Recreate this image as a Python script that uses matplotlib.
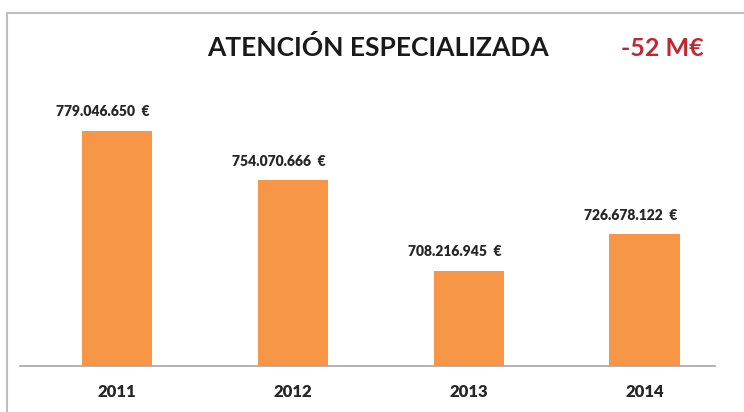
import numpy as np
import matplotlib.pyplot as plt
from matplotlib.lines import Line2D

# Data
years = ['2011', '2012', '2013', '2014']
values = [779046650, 754070666, 708216945, 726678122]
value_labels = ['779.046.650  €', '754.070.666  €', '708.216.945  €', '726.678.122  €']
title = 'ATENCIÓN ESPECIALIZADA'
delta_text = '-52 M€'

W, H = 744, 412
fig = plt.figure(figsize=(W / 100, H / 100), dpi=100)
plt.rcParams['font.family'] = ['Lato', 'DejaVu Sans']

# axes placed so that baseline sits at y=366px, spans x 20..715px
ax = fig.add_axes([20 / W, 1 - 366 / H, (715 - 20) / W, (366 - 80) / H])
x = np.arange(len(years))
ax.bar(x, values, width=0.40, color='#F79646')
ax.set_xlim(-0.551, 3.40)
ax.set_ylim(660e6, 804.7e6)

for xi, v, lab in zip(x, values, value_labels):
    ax.annotate(lab, (xi, v), xytext=(-10, 9), textcoords='offset points',
                ha='center', va='bottom', fontsize=10, fontweight='heavy', color='#262626')

ax.set_xticks(x)
ax.set_xticklabels(years, fontsize=12, fontweight='heavy', color='#262626')
ax.tick_params(axis='x', length=0, pad=13)
ax.set_yticks([])
for s in ['top', 'right', 'left']:
    ax.spines[s].set_visible(False)
ax.spines['bottom'].set_color('#A6A6A6')
ax.spines['bottom'].set_linewidth(1.2)

# frame around the chart (cut off at right/bottom)
fig.add_artist(Line2D([7 / W, 1], [1 - 13 / H, 1 - 13 / H], color='#BFBFBF', lw=1.5))
fig.add_artist(Line2D([7 / W, 7 / W], [0, 1 - 13 / H], color='#BFBFBF', lw=1.5))

fig.text(378 / W, 1 - 48 / H, title, ha='center', va='center', fontsize=19,
         fontweight='bold', color='#1a1a1a')
fig.text(662 / W, 1 - 48 / H, delta_text, ha='center', va='center', fontsize=18,
         fontweight='bold', color='#C0282D')

fig.savefig('out.png', dpi=100)
